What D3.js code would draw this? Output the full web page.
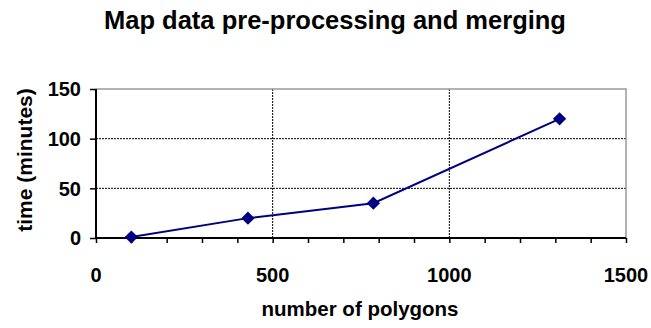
<!DOCTYPE html>
<html><head><meta charset="utf-8">
<script src="https://cdn.jsdelivr.net/npm/d3@7"></script>
<style>body{margin:0;background:#fff}svg{display:block;font-family:"Liberation Sans",Arial,sans-serif}</style>
</head><body><svg id="c" width="651" height="328"></svg>
<script>
const polygons = [100, 430, 785, 1312];
const minutes = [1, 20, 35, 120];
const xTicks = [0, 500, 1000, 1500];
const yTicks = [0, 50, 100, 150];
const xMinor = d3.range(0, 1501, 100);

const svg = d3.select("#c");
const L = 96, R = 626, T = 89, B = 238;
const x = d3.scaleLinear().domain([0, 1500]).range([L, R]);
const y = d3.scaleLinear().domain([0, 150]).range([B, T]);

// grid
svg.append("g").selectAll("line").data(yTicks.filter(d => d > 0 && d < 150)).join("line")
  .attr("x1", L).attr("x2", R).attr("y1", d => y(d)).attr("y2", d => y(d))
  .attr("stroke", "#000").attr("stroke-dasharray", "2,1").attr("stroke-width", 1);
svg.append("g").selectAll("line").data(xTicks.filter(d => d > 0 && d < 1500)).join("line")
  .attr("y1", T).attr("y2", B).attr("x1", d => x(d)).attr("x2", d => x(d))
  .attr("stroke", "#000").attr("stroke-dasharray", "2,1").attr("stroke-width", 1);
// top/right border
svg.append("path").attr("d", `M${L},${T}H${R}V${B}`).attr("fill", "none")
  .attr("stroke", "#999").attr("stroke-width", 1.5);

// axes
const xAxis = d3.axisBottom(x).tickValues(xMinor).tickSize(5).tickFormat("");
const gx = svg.append("g").attr("transform", `translate(0,${B})`).call(xAxis);
gx.select(".domain").attr("stroke-width", 2).attr("d", `M${L},0H${R}`);
gx.selectAll(".tick line").attr("stroke-width", 1.5);
const yAxis = d3.axisLeft(y).tickValues(yTicks).tickSize(6).tickFormat("");
const gy = svg.append("g").attr("transform", `translate(${L},0)`).call(yAxis);
gy.select(".domain").attr("stroke-width", 2).attr("d", `M0,${T}V${B}`);
gy.selectAll(".tick line").attr("stroke-width", 1.5);

// tick labels
svg.append("g").selectAll("text").data(yTicks).join("text")
  .attr("x", 81).attr("y", d => y(d)).attr("dy", "0.36em").attr("text-anchor", "end")
  .attr("font-size", 20).attr("font-weight", "bold").text(d => d);
svg.append("g").selectAll("text").data(xTicks).join("text")
  .attr("x", d => x(d)).attr("y", 282).attr("text-anchor", "middle")
  .attr("font-size", 20).attr("font-weight", "bold").text(d => d);

// titles
svg.append("text").attr("x", 335).attr("y", 29).attr("text-anchor", "middle")
  .attr("font-size", 25.5).attr("font-weight", "bold").text("Map data pre-processing and merging");
svg.append("text").attr("x", 360).attr("y", 316).attr("text-anchor", "middle")
  .attr("font-size", 20.5).attr("font-weight", "bold").text("number of polygons");
svg.append("text").attr("transform", `translate(32,160) rotate(-90)`).attr("text-anchor", "middle")
  .attr("font-size", 21).attr("font-weight", "bold").text("time (minutes)");

// series
const data = polygons.map((p, i) => [p, minutes[i]]);
svg.append("path").datum(data).attr("fill", "none").attr("stroke", "#000080").attr("stroke-width", 2)
  .attr("d", d3.line().x(d => x(d[0])).y(d => y(d[1])));
svg.append("g").selectAll("path").data(data).join("path")
  .attr("d", d3.symbol(d3.symbolDiamond2, 112))
  .attr("transform", d => `translate(${x(d[0])},${y(d[1])})`)
  .attr("fill", "#000080");
</script></body></html>
